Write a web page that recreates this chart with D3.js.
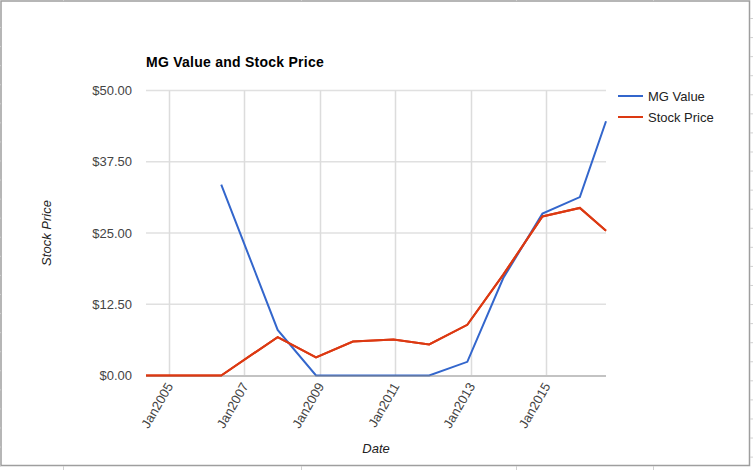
<!DOCTYPE html>
<html><head><meta charset="utf-8">
<script src="https://cdn.jsdelivr.net/npm/d3@7"></script>
<style>body{margin:0;background:#fff}svg{display:block;font-family:Arial,"Liberation Sans",sans-serif}</style>
</head><body><svg id="c" width="753" height="470"></svg>
<script>
const dates = ["2004-05-28","2005-05-27","2006-05-26","2007-11-23","2008-11-28","2009-11-20","2010-12-17","2011-11-28","2012-12-01","2013-11-14","2014-11-28","2015-11-25","2016-08-04"];
const mgValue = [null,null,33.5,8.0,0,0,0,0,2.4,17.1,28.4,31.3,44.6];
const stockPrice = [0,0,0,6.74,3.16,5.96,6.32,5.44,8.89,17.7,27.9,29.4,25.4];
const yTicks = [0,12.5,25,37.5,50];
const xTickYears = [2005,2007,2009,2011,2013,2015];
const seriesNames = ["MG Value","Stock Price"];
const colors = ["#3366cc","#dc3912"];

const svg = d3.select("#c");
const parse = d3.timeParse("%Y-%m-%d");
const dd = dates.map(parse);

// sheet frame
const frame = svg.append("g");
frame.append("rect").attr("x",1).attr("y",1).attr("width",748.5).attr("height",464.5)
  .attr("fill","#fff").attr("stroke","#9e9e9e").attr("stroke-width",1.5);
const rowYs = d3.range(0,25).map(i=>18.5+i*19.07).filter(y=>y<464);
rowYs.forEach(y=>{
  frame.append("line").attr("x1",750).attr("x2",753).attr("y1",y).attr("y2",y).attr("stroke","#d0d0d0");
  frame.append("line").attr("x1",0).attr("x2",1).attr("y1",y+9).attr("y2",y+9).attr("stroke","#d0d0d0");
});
[63.5,301.5,516.5,653.5].forEach(x=>{
  frame.append("line").attr("x1",x).attr("x2",x).attr("y1",0).attr("y2",1).attr("stroke","#d0d0d0");
  frame.append("line").attr("x1",x).attr("x2",x).attr("y1",466).attr("y2",470).attr("stroke","#d0d0d0");
});

const x = d3.scaleTime().domain([dd[0], dd[dd.length-1]]).range([146,606]);
const y = d3.scaleLinear().domain([0,50]).range([375.5,90.5]);

// horizontal grid
svg.append("g").selectAll("line").data(yTicks.filter(v=>v>0)).join("line")
  .attr("x1",146).attr("x2",606).attr("y1",d=>y(d)).attr("y2",d=>y(d))
  .attr("stroke","#e0e0e0").attr("stroke-width",1.5);
// vertical grid
const xTickDates = xTickYears.map(yr=>new Date(yr,0,1));
svg.append("g").selectAll("line").data(xTickDates).join("line")
  .attr("x1",d=>Math.round(x(d))+0.5).attr("x2",d=>Math.round(x(d))+0.5).attr("y1",90.5).attr("y2",375)
  .attr("stroke","#dcdcdc").attr("stroke-width",1.5);

// y tick labels
svg.append("g").selectAll("text").data(yTicks).join("text")
  .attr("x",132).attr("y",d=>y(d)).attr("dy","0.36em").attr("text-anchor","end")
  .attr("font-size",13).attr("fill","#444").text(d=>"$"+d.toFixed(2));

// x tick labels
svg.append("g").selectAll("text").data(xTickDates).join("text")
  .attr("transform",d=>`translate(${x(d)+5},386) rotate(-60)`)
  .attr("text-anchor","end").attr("font-size",13).attr("fill","#444")
  .text(d=>"Jan"+d.getFullYear());

// lines
const series = [mgValue, stockPrice];
series.forEach((vals,i)=>{
  const line = d3.line().defined(d=>d[1]!=null).x(d=>x(d[0])).y(d=>y(d[1]));
  svg.append("path").datum(dd.map((d,j)=>[d,vals[j]]))
    .attr("d",line).attr("fill","none").attr("stroke",colors[i]).attr("stroke-width",2);
});

// baseline
svg.append("line").attr("x1",146).attr("x2",606).attr("y1",376).attr("y2",376)
  .attr("stroke","#888").attr("stroke-width",1.2);
// redraw red on top of baseline where zero
svg.append("path").datum(dd.map((d,j)=>[d,stockPrice[j]]))
  .attr("d",d3.line().x(d=>x(d[0])).y(d=>y(d[1]))).attr("fill","none").attr("stroke",colors[1]).attr("stroke-width",2);

// titles
svg.append("text").attr("x",146).attr("y",67).attr("font-size",14).attr("font-weight","bold").attr("fill","#000")
  .attr("letter-spacing","0.25px").text("MG Value and Stock Price");
svg.append("text").attr("transform","translate(51,233) rotate(-90)").attr("text-anchor","middle")
  .attr("font-size",13).attr("font-style","italic").attr("fill","#222").text("Stock Price");
svg.append("text").attr("x",376).attr("y",453).attr("text-anchor","middle")
  .attr("font-size",13).attr("font-style","italic").attr("fill","#222").text("Date");

// legend
const lg = svg.append("g");
seriesNames.forEach((n,i)=>{
  const ly = 96 + i*21;
  lg.append("line").attr("x1",618).attr("x2",643).attr("y1",ly).attr("y2",ly).attr("stroke",colors[i]).attr("stroke-width",2);
  lg.append("text").attr("x",648).attr("y",ly).attr("dy","0.36em").attr("font-size",13).attr("fill","#222").text(n);
});
</script></body></html>
